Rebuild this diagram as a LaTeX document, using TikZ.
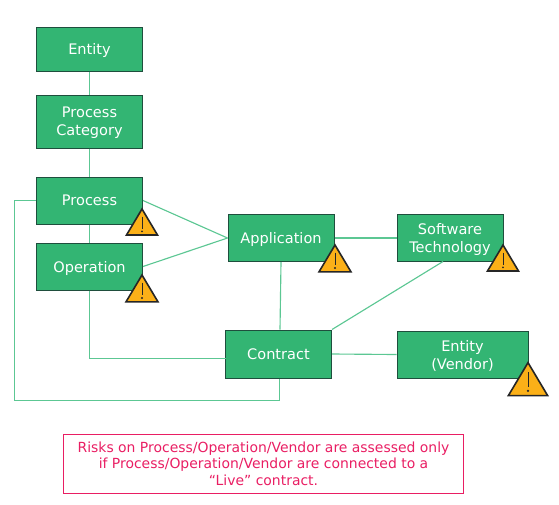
\documentclass[tikz,border=0pt]{standalone}
\usepackage{fontspec}
\setmainfont{DejaVu Sans}
\usetikzlibrary{positioning,calc}
\usepackage{xcolor}
\definecolor{boxgreen}{HTML}{33B573}
\definecolor{boxedge}{HTML}{1F4E3D}
\definecolor{linkgreen}{HTML}{5CC793}
\definecolor{warnamber}{HTML}{FBB018}
\definecolor{notepink}{HTML}{E91E63}
\newcommand{\warnsign}[3]{%
  \begin{scope}[shift={(#1)},scale=#3]
    \draw[fill=warnamber,draw=black!85,line width=1.2pt,line join=miter] (-15.5,26.5) -- (0,0.5) -- (15.5,26.5) -- cycle;
    \draw[black!85,line width=0.65pt] (0,8) -- (0,20);
    \fill[black!85] (0,22.8) circle (1);
  \end{scope}
  \node[inner sep=0pt,minimum size=0pt] (#2) at (#1) {};
}

\begin{document}
\begin{tikzpicture}[
    x=0.75pt, y=-0.75pt,
    databox/.style={rectangle, draw=boxedge, fill=boxgreen, line width=0.75pt, minimum width=79.5pt, minimum height=35.25pt, inner sep=0pt, align=center, text=white, text depth=0pt, font=\fontsize{10.9pt}{13.5pt}\selectfont},
    link/.style={draw=linkgreen, line width=0.85pt}
]
    \useasboundingbox (0,0) rectangle (559,504);

    \coordinate (procleft) at (14.5,200.5);
    \coordinate (procfoot) at (14.5,400.5);
    \coordinate (contfoot) at (279.5,400.5);
    \coordinate (opcorner) at (89.5,358.5);
    \coordinate (contleft) at (225.5,358.5);
    \coordinate (softfoot) at (443,261.5);

    \node[databox, minimum height=33pt] (entity)   at (89.5,49)    {Entity};
    \node[databox, minimum height=39.75pt] (category) at (89.5,121.5) {Process\\Category};
    \node[databox] (process)   at (89.5,200.5)  {Process};
    \node[databox] (operation) at (89.5,266.5)  {Operation};
    \node[databox] (application) at (281,238)   {Application};
    \node[databox] (software)  at (450,238)     {Software\\Technology};
    \node[databox, minimum height=36pt] (contract)  at (278.5,354) {Contract};
    \node[databox, minimum width=98.25pt] (vendor) at (462.5,354.5) {Entity\\(Vendor)};

    \node[rectangle, draw=notepink, line width=0.75pt, minimum width=300pt, minimum height=44.25pt, inner sep=0pt, align=center, text=notepink, font=\fontsize{10.45pt}{12.4pt}\selectfont] (note) at (263.5,463.5)
        {Risks on Process/Operation/Vendor are assessed only\\if Process/Operation/Vendor are connected to a\\“Live” contract.};

    \draw[link] (entity) -- (category);
    \draw[link] (category) -- (process);
    \draw[link] (process) -- (operation);
    \draw[link] (process.east) -- (application.west);
    \draw[link] (operation.east) -- (application.west);
    \draw[link] (application.east) -- (software.west);
    \draw[link] (application.south) -- (contract.north -| 280,0);
    \draw[link] (softfoot) -- (contract.north east);
    \draw[link] (contract.east) -- (vendor.west);
    \draw[link] (operation.south -| opcorner) -- (opcorner) -- (contleft);
    \draw[link] (process.west) -- (procleft) -- (procfoot) -- (contfoot) -- (contract.south -| contfoot);

    \warnsign{142,208.5}{warnprocess}{1}
    \warnsign{142,274.5}{warnoperation}{1.03}
    \warnsign{335,244.5}{warnapplication}{1.03}
    \warnsign{503,244.5}{warnsoftware}{1}
    \warnsign{528,362}{warnvendor}{1.27}
\end{tikzpicture}
\end{document}
